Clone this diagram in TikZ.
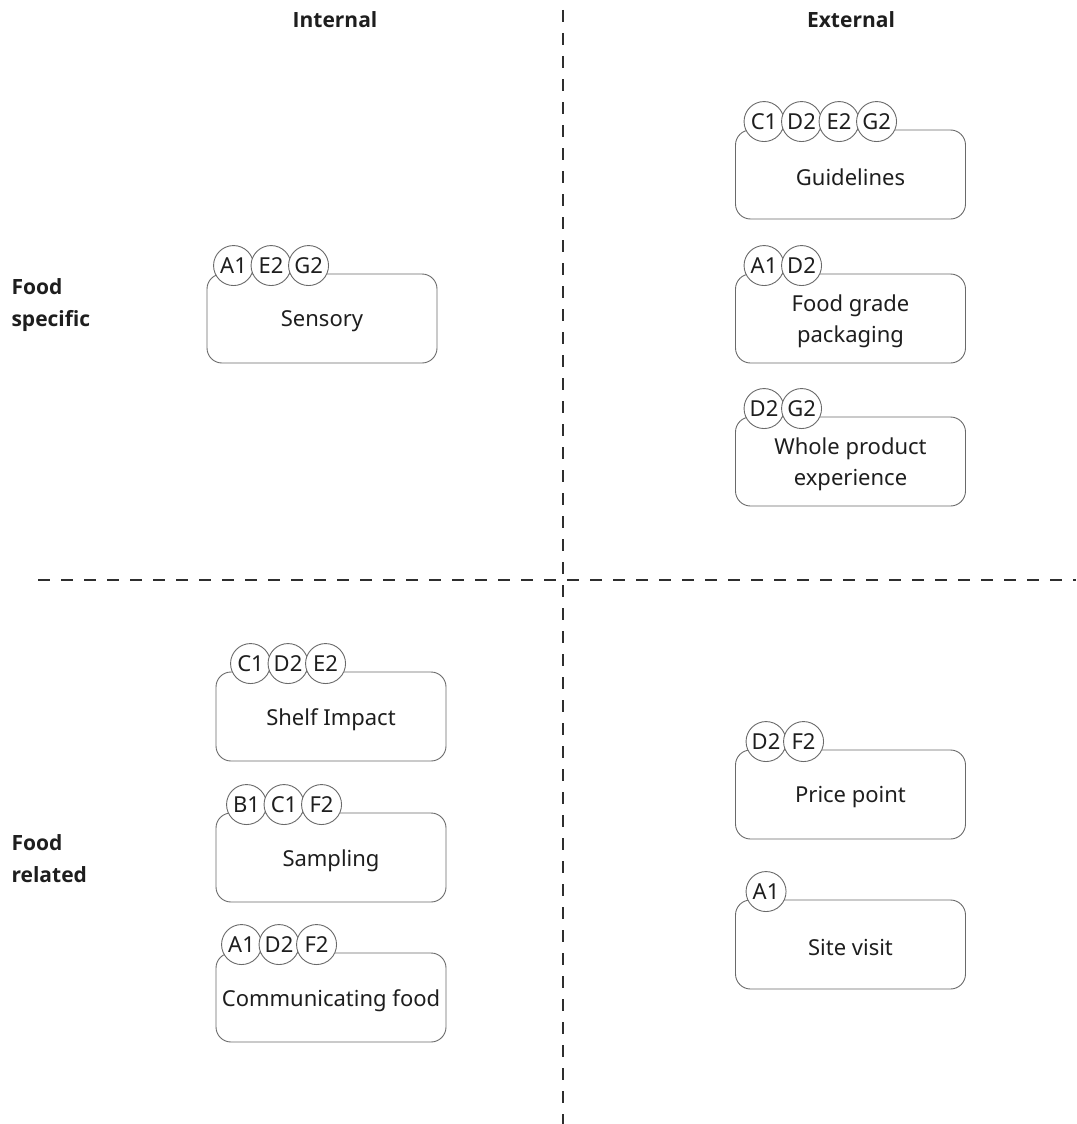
\documentclass[tikz,border=0pt]{standalone}
\usepackage{fontspec}
\setmainfont{Noto Sans}
\newfontfamily\headfont{Open Sans}
\definecolor{ink}{HTML}{1E1E1E}
\definecolor{edge}{HTML}{6A6A6A}
\definecolor{divider}{HTML}{2E2E2E}
\begin{document}
\begin{tikzpicture}[x=1pt,y=-1pt,
  card/.style={draw=edge, line width=0.9pt, fill=white, rounded corners=15pt,
    minimum width=230pt, minimum height=89pt},
  cardtext/.style={text=ink, align=center, font=\fontsize{22}{31}\selectfont},
  tag/.style={circle, draw=edge, line width=0.9pt, fill=white, minimum size=40pt,
    inner sep=0pt, text=ink, font=\fontsize{22}{24}\selectfont},
  heading/.style={text=ink, font=\headfont\bfseries\fontsize{21}{32}\selectfont, align=left},
  divline/.style={draw=divider, line width=2pt, dash pattern=on 12pt off 11pt}
]
\useasboundingbox (0,0) rectangle (1076,1124);

% quadrant dividers
\coordinate (vtop) at (563,10);
\coordinate (vbot) at (563,1124);
\coordinate (hleft) at (38,580);
\coordinate (hright) at (1076,580);
\draw[divline] (vtop) -- (vbot);
\draw[divline] (hleft) -- (hright);

% axis headings
\node[heading] (internal) at (335,20) {Internal};
\node[heading] (external) at (851,20) {External};
\node[heading, anchor=west] (foodspecific) at (8,305) {Food\\specific};
\node[heading, anchor=west] (foodrelated) at (8,859) {Food\\related};

% cards (outline only; the label sits slightly below the geometric centre)
\foreach \name/\cx/\cy/\label in {
  sensory/322/318.5/{Sensory},
  guidelines/850.5/174.5/{Guidelines},
  packaging/850.5/318.5/{Food grade\\packaging},
  wholeproduct/850.5/461.5/{Whole product\\experience},
  shelf/331/716.5/{Shelf Impact},
  sampling/331/857.5/{Sampling},
  communicating/331/997.5/{Communicating food},
  price/850.5/794.5/{Price point},
  site/850.5/944.5/{Site visit}}{
  \node[card] (\name) at (\cx,\cy) {};
  \node[cardtext] (\name-label) at ([yshift=-3pt]\name.center) {\label};
}

% code tags along the top edge of each card
\foreach \card/\off/\codes in {
  sensory/27/{A1,E2,G2},
  guidelines/29/{C1,D2,E2,G2},
  packaging/29/{A1,D2},
  wholeproduct/29/{D2,G2},
  shelf/35/{C1,D2,E2},
  sampling/31/{B1,C1,F2},
  communicating/26/{A1,D2,F2},
  price/31/{D2,F2},
  site/31/{A1}}{
  \foreach \code [count=\i from 0] in \codes {
    \node[tag] (\card-\code) at ([xshift={\off*1pt+\i*37.5pt}, yshift=8pt]\card.north west) {\code};
  }
}
\end{tikzpicture}
\end{document}
